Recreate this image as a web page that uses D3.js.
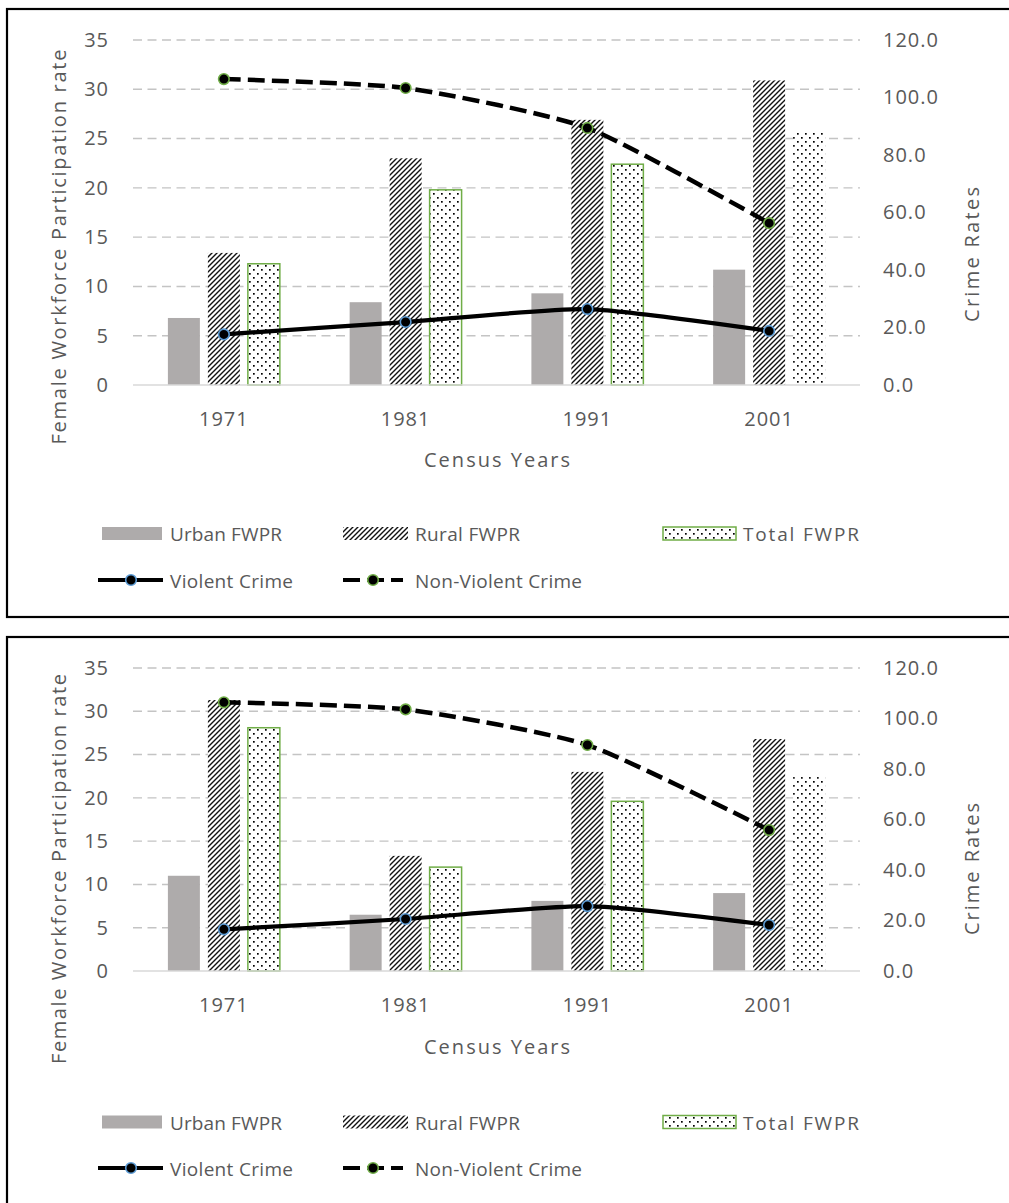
<!DOCTYPE html>
<html>
<head>
<meta charset="utf-8">
<script src="https://cdn.jsdelivr.net/npm/d3@7"></script>
<style>
  html, body { margin: 0; padding: 0; background: #fff; }
  svg { display: block; }
  text { font-family: "Open Sans", "Noto Sans", sans-serif; fill: #595959; }
</style>
</head>
<body>
<script>
// ---------------- DATA ----------------
const years = ["1971", "1981", "1991", "2001"];
const barSeries = ["Urban FWPR", "Rural FWPR", "Total FWPR"];
const lineSeries = ["Violent Crime", "Non-Violent Crime"];
const leftTicks = [0, 5, 10, 15, 20, 25, 30, 35];
const rightTicks = [0, 20, 40, 60, 80, 100, 120];
const leftTitle = "Female Workforce Participation rate";
const rightTitle = "Crime Rates";
const xTitle = "Census Years";

// Top chart
const urbanTop = [6.8, 8.4, 9.3, 11.7];
const ruralTop = [13.4, 23.0, 26.9, 30.9];
const totalTop = [12.3, 19.8, 22.4, 25.6];
const violentTop = [17.6, 21.9, 26.4, 18.8];
const nonViolentTop = [106.4, 103.3, 89.4, 56.3];

// Bottom chart
const urbanBottom = [11.0, 6.5, 8.1, 9.0];
const ruralBottom = [31.3, 13.3, 23.0, 26.8];
const totalBottom = [28.1, 12.0, 19.6, 22.4];
const violentBottom = [16.5, 20.6, 25.7, 18.2];
const nonViolentBottom = [106.4, 103.6, 89.5, 55.8];

// ---------------- DRAWING ----------------
const W = 1009, H = 1203;
const svg = d3.select("body").append("svg").attr("width", W).attr("height", H);

const defs = svg.append("defs");
const hatch = defs.append("pattern").attr("id", "hatch")
  .attr("patternUnits", "userSpaceOnUse").attr("width", 5).attr("height", 5);
hatch.append("rect").attr("width", 5).attr("height", 5).attr("fill", "#fff");
hatch.append("path").attr("d", "M-1,1 L1,-1 M0,5 L5,0 M4,6 L6,4")
  .attr("stroke", "#111").attr("stroke-width", 1.4);

const dots = defs.append("pattern").attr("id", "dots")
  .attr("patternUnits", "userSpaceOnUse").attr("width", 8).attr("height", 8);
dots.append("rect").attr("width", 8).attr("height", 8).attr("fill", "#fff");
dots.append("rect").attr("x", 1).attr("y", 1).attr("width", 1.7).attr("height", 1.7).attr("fill", "#000");
dots.append("rect").attr("x", 5).attr("y", 5).attr("width", 1.7).attr("height", 1.7).attr("fill", "#000");

const barFill = ["#aeabab", "url(#hatch)", "url(#dots)"];
const green = "#70ad47";
const blue = "#5b9bd5";

function drawChart(cfg) {
  const g = svg.append("g");
  const plotL = 133, plotR = 860;

  // frame
  g.append("rect").attr("x", 7).attr("y", cfg.borderTop)
    .attr("width", 1030).attr("height", cfg.borderBottom - cfg.borderTop)
    .attr("fill", "none").attr("stroke", "#000").attr("stroke-width", 2.2);

  const x = d3.scaleBand().domain(years).range([plotL, plotR]);
  const half = x.bandwidth() * 0.308;
  const xi = d3.scaleBand().domain(barSeries).range([-half, half]).paddingInner(0.2);
  const yL = d3.scaleLinear().domain([0, 35]).range([cfg.plotBottom, cfg.plotTop]);
  const yR = d3.scaleLinear().domain([0, 120]).range([cfg.plotBottom, cfg.plotTop]);

  // gridlines
  g.append("g").selectAll("line").data(leftTicks.filter(d => d > 0)).join("line")
    .attr("x1", plotL).attr("x2", plotR)
    .attr("y1", d => yL(d)).attr("y2", d => yL(d))
    .attr("stroke", "#c4c4c4").attr("stroke-width", 1.4)
    .attr("stroke-dasharray", "9,5.5");

  // bars
  const barData = [cfg.urban, cfg.rural, cfg.total];
  barSeries.forEach((s, si) => {
    g.append("g").selectAll("rect").data(barData[si]).join("rect")
      .attr("x", (d, i) => x(years[i]) + x.bandwidth() / 2 + xi(s))
      .attr("width", xi.bandwidth())
      .attr("y", d => yL(d))
      .attr("height", d => yL(0) - yL(d))
      .attr("fill", barFill[si])
      .attr("stroke", (d, i) => (si === 2 && i < years.length - 1) ? green : "none")
      .attr("stroke-width", 1.5);
  });

  // baseline
  g.append("line").attr("x1", plotL).attr("x2", plotR)
    .attr("y1", yL(0)).attr("y2", yL(0))
    .attr("stroke", "#d9d9d9").attr("stroke-width", 1.5);

  // lines
  const cx = i => x(years[i]) + x.bandwidth() / 2;
  const line = d3.line().x((d, i) => cx(i)).y(d => yR(d)).curve(d3.curveCardinal.tension(0.4));
  g.append("path").datum(cfg.violent).attr("d", line)
    .attr("fill", "none").attr("stroke", "#000").attr("stroke-width", 4.2)
    .attr("stroke-linejoin", "round");
  g.append("path").datum(cfg.nonViolent).attr("d", line)
    .attr("fill", "none").attr("stroke", "#000").attr("stroke-width", 4.5)
    .attr("stroke-dasharray", "17,7");
  [[cfg.violent, blue], [cfg.nonViolent, green]].forEach(([vals, col]) => {
    g.append("g").selectAll("circle").data(vals).join("circle")
      .attr("cx", (d, i) => cx(i)).attr("cy", d => yR(d)).attr("r", 5.3)
      .attr("fill", "#000").attr("stroke", col).attr("stroke-width", 1.6);
  });

  // axes
  const tickFont = sel => sel.selectAll("text")
    .attr("font-family", "Open Sans").attr("font-size", 20)
    .attr("fill", "#595959").style("letter-spacing", "1px");

  const axL = g.append("g").attr("transform", `translate(${plotL},0)`)
    .call(d3.axisLeft(yL).tickValues(leftTicks).tickSize(0).tickPadding(24));
  axL.select(".domain").remove(); tickFont(axL);

  const axR = g.append("g").attr("transform", `translate(${plotR},0)`)
    .call(d3.axisRight(yR).tickValues(rightTicks).tickFormat(d3.format(".1f")).tickSize(0).tickPadding(23));
  axR.select(".domain").remove(); tickFont(axR);

  const axB = g.append("g").attr("transform", `translate(0,${cfg.plotBottom})`)
    .call(d3.axisBottom(x).tickSize(0).tickPadding(0));
  axB.select(".domain").remove(); tickFont(axB);
  axB.selectAll("text").attr("dy", null).attr("y", cfg.yearBase - cfg.plotBottom);

  // titles
  g.append("text").attr("transform", `translate(66,${cfg.leftCy}) rotate(-90)`)
    .attr("text-anchor", "middle").attr("font-size", 20)
    .attr("textLength", cfg.leftLen).attr("lengthAdjust", "spacing").text(leftTitle);
  g.append("text").attr("transform", `translate(979,${cfg.rightCy}) rotate(-90)`)
    .attr("text-anchor", "middle").attr("font-size", 20)
    .attr("textLength", cfg.rightLen).attr("lengthAdjust", "spacing").text(rightTitle);
  g.append("text").attr("x", 497).attr("y", cfg.xTitleBase)
    .attr("text-anchor", "middle").attr("font-size", 20)
    .attr("textLength", 146).attr("lengthAdjust", "spacing").text(xTitle);

  // legend
  const leg = g.append("g");
  const r1 = cfg.leg1, r2 = cfg.leg2;
  const sw = [{x: 102, w: 60, tx: 170, tl: 112}, {x: 343, w: 65, tx: 415, tl: 105}, {x: 663, w: 73, tx: 743, tl: 116}];
  barSeries.forEach((s, si) => {
    leg.append("rect").attr("x", sw[si].x).attr("y", r1 - 6.5)
      .attr("width", sw[si].w).attr("height", 13)
      .attr("fill", barFill[si])
      .attr("stroke", si === 2 ? green : "none").attr("stroke-width", 1.5);
    leg.append("text").attr("x", sw[si].tx).attr("y", r1 + 7.5)
      .attr("font-size", 19).attr("textLength", sw[si].tl).attr("lengthAdjust", "spacing")
      .text(s);
  });
  const ls = [{x1: 98, x2: 163, m: 131, tx: 170, tl: 123, dash: null, col: blue},
              {x1: 343, x2: 403, m: 373, tx: 415, tl: 167, dash: "17,7", col: green}];
  lineSeries.forEach((s, li) => {
    leg.append("line").attr("x1", ls[li].x1).attr("x2", ls[li].x2)
      .attr("y1", r2).attr("y2", r2)
      .attr("stroke", "#000").attr("stroke-width", 4.2)
      .attr("stroke-dasharray", ls[li].dash);
    leg.append("circle").attr("cx", ls[li].m).attr("cy", r2).attr("r", 5.3)
      .attr("fill", "#000").attr("stroke", ls[li].col).attr("stroke-width", 1.6);
    leg.append("text").attr("x", ls[li].tx).attr("y", r2 + 8)
      .attr("font-size", 19).attr("textLength", ls[li].tl).attr("lengthAdjust", "spacing")
      .text(s);
  });
}

drawChart({
  borderTop: 9, borderBottom: 617, plotTop: 40, plotBottom: 385,
  yearBase: 426, xTitleBase: 467, leg1: 533.5, leg2: 580,
  leftCy: 247, leftLen: 395, rightCy: 254.5, rightLen: 135,
  urban: urbanTop, rural: ruralTop, total: totalTop,
  violent: violentTop, nonViolent: nonViolentTop
});

drawChart({
  borderTop: 637, borderBottom: 1215, plotTop: 668, plotBottom: 971,
  yearBase: 1012, xTitleBase: 1054, leg1: 1122, leg2: 1168,
  leftCy: 869, leftLen: 390, rightCy: 869, rightLen: 132,
  urban: urbanBottom, rural: ruralBottom, total: totalBottom,
  violent: violentBottom, nonViolent: nonViolentBottom
});
</script>
</body>
</html>
